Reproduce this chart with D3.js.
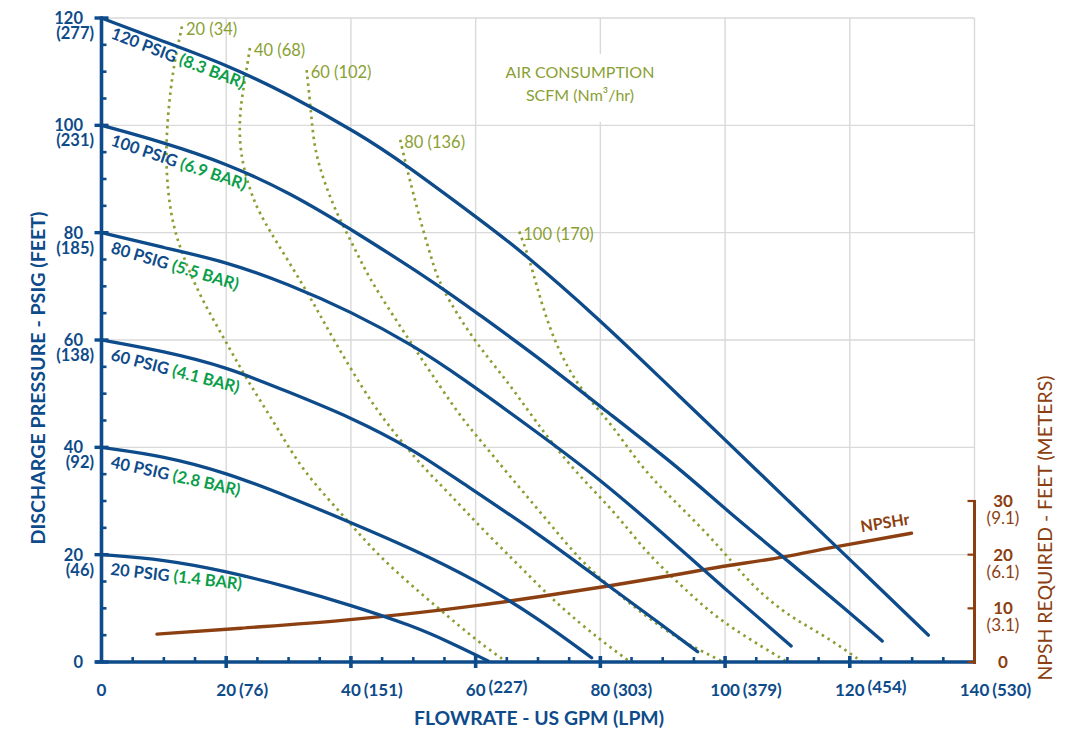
<!DOCTYPE html>
<html>
<head>
<meta charset="utf-8">
<script src="https://cdn.jsdelivr.net/npm/d3@7"></script>
<style>
body { margin: 0; background: #fff; }
svg { display: block; font-family: Lato, "Open Sans", sans-serif; }
</style>
</head>
<body>
<svg id="chart" width="1078" height="734"></svg>
<script>
// ---- data ----
var flowTicks = [0, 20, 40, 60, 80, 100, 120, 140];
var flowLpm = ['', '(76)', '(151)', '(227)', '(303)', '(379)', '(454)', '(530)'];
var psiTicks = [0, 20, 40, 60, 80, 100, 120];
var psiFeet = ['', '(46)', '(92)', '(138)', '(185)', '(231)', '(277)'];
var npshTicks = [0, 10, 20, 30];
var npshMeters = ['', '(3.1)', '(6.1)', '(9.1)'];

// pump curves, [gpm, psi]
var pumpPsi = [20, 40, 60, 80, 100, 120];
var pumpBar = ['1.4', '2.8', '4.1', '5.5', '6.9', '8.3'];
var pump20 = [[0,20],[10,19.1],[20,16.9],[30,14],[40,10.6],[50,6.7],[56,3.6],[62,0.2]];
var pump40 = [[0,40],[10,38.4],[20,35.3],[30,30.8],[40,26],[50,21],[60,15.3],[70,8.2],[78.6,0.8]];
var pump60 = [[0,60],[10,57.9],[20,55],[30,50.3],[40,45.6],[50,39.6],[57,34],[70,24],[80,15.3],[90,6.8],[95.6,1.9]];
var pump80 = [[0,80],[10,77.2],[20,74.6],[30,70.4],[40,65.3],[50,59],[57.5,53.2],[70,42.7],[80,34],[90,24],[100,13.6],[110.6,3]];
var pump100 = [[0,100],[10,96.8],[20,92.9],[30,87.6],[41.5,79.6],[54.3,70],[60,65.2],[70,56.8],[80,47.6],[92.8,36],[100,28.5],[110,18.9],[120,9.2],[125.2,3.9]];
var pump120 = [[0,120],[10,115.6],[20,111.3],[30,105.8],[41.5,98.3],[48.4,93],[60.7,82.4],[67.1,76.8],[80,63.7],[90,52.5],[100,41.4],[110,30.2],[120,19.1],[132.6,5]];
var pumpCurves = [pump20, pump40, pump60, pump80, pump100, pump120];

// air consumption lines, [gpm, psi]
var airScfm = [20, 40, 60, 80, 100];
var airNm3 = [34, 68, 102, 136, 170];
var air20 = [[12.9,118.4],[12.1,114],[11.3,109],[10.5,100.4],[10.3,92.3],[11,83.6],[12.6,76.8],[15.8,68.1],[19.8,60],[23.3,52.6],[28.1,43.9],[32.1,35.8],[39,27],[44.7,19.3],[54.3,9.7],[60.7,3.5],[65,0]];
var air40 = [[23.8,114.4],[23,108.5],[22.2,102.9],[22.1,97.3],[22.7,92.3],[24.3,86.1],[26.5,81.1],[32.9,69.3],[37.2,60],[43.6,47.6],[47.9,41.4],[51.8,36],[55.6,31.6],[60.7,25.2],[67.1,17.8],[73.5,10.3],[80,4.1],[84.8,0]];
var air60 = [[32.9,110.3],[33.4,104.8],[33.7,101],[34.2,95.4],[35.6,89.8],[37.7,83.6],[39.9,78.7],[42,73.7],[44.1,69.3],[50,58.8],[54.3,51.3],[58,45.1],[60.7,41.4],[66,33.9],[71.4,26.5],[76.7,19],[82.1,13.4],[87.4,8.4],[92.8,4.1],[96,2.2],[99.7,0]];
var air80 = [[47.9,97.3],[48.9,92.3],[50,87.3],[51.4,81.1],[53,74.9],[54.3,70],[59.6,60],[65,52.5],[69.5,45],[75.6,35.8],[82.1,28.3],[87.4,20.3],[92.3,15],[97.1,9.7],[102.4,5.3],[110,0]];
var air100 = [[67,80.2],[68.5,75.5],[69.8,70],[71.9,61.9],[74.6,55],[77.8,49.4],[82.1,43.9],[86.6,36.2],[91.7,30.2],[97.1,24],[101.3,18.4],[105.1,13.4],[110.4,8.4],[116.3,4.7],[122,0]];
var airCurves = [air20, air40, air60, air80, air100];

// NPSH required, [gpm, feet]
var npshr = [[8.9,5.2],[22.4,6.3],[39,7.8],[50.1,9.1],[60.7,10.6],[70.4,12.2],[81.5,14.2],[92.8,16.4],[97.1,17.3],[109.4,19.6],[117.9,21.5],[129.9,24]];

// ---- layout ----
var pumpLabelAngle = [6.5, 12.5, 14.5, 16.5, 18.5, 21];

var BLUE = '#0e4b8a', GREEN = '#0a9e4a', OLIVE = '#8a9f33', BROWN = '#8c4012', GRID = '#d9d9d9';

var svg = d3.select('#chart');
var x = d3.scaleLinear().domain([0, 140]).range([101.5, 974.5]);
var y = d3.scaleLinear().domain([0, 120]).range([662, 18]);
var yR = d3.scaleLinear().domain([0, 30]).range([y(0), y(30)]);

// grid
var grid = svg.append('g').attr('class', 'grid');
grid.selectAll('.hgrid')
    .data(psiTicks.filter(function (d) { return d > 0; }))
  .enter()
  .append('line')
    .attr('x1', x(0)).attr('x2', x(140))
    .attr('y1', function (d) { return y(d); })
    .attr('y2', function (d) { return y(d); })
    .attr('stroke', GRID).attr('stroke-width', 1.4);
grid.selectAll('.vgrid')
    .data(flowTicks.filter(function (d) { return d > 0; }))
  .enter()
  .append('line')
    .attr('x1', function (d) { return x(d); })
    .attr('x2', function (d) { return x(d); })
    .attr('y1', y(120))
    .attr('y2', function (d) { return d == 140 ? yR(30) : y(0); })
    .attr('stroke', GRID).attr('stroke-width', 1.4);

// air consumption title box
svg.append('rect')
    .attr('x', 500).attr('y', 54).attr('width', 160).attr('height', 68)
    .attr('fill', '#fff');
svg.append('text')
    .attr('x', 580).attr('y', 78)
    .attr('text-anchor', 'middle').attr('fill', OLIVE)
    .style('font-size', '16px')
    .text('AIR CONSUMPTION');
svg.append('text')
    .attr('x', 580).attr('y', 101)
    .attr('text-anchor', 'middle').attr('fill', OLIVE)
    .style('font-size', '16px')
    .text('SCFM (Nm³/hr)');

// air consumption lines
var smoothLine = d3.line()
    .x(function (d) { return x(d[0]); })
    .y(function (d) { return y(d[1]); })
    .curve(d3.curveBasis);

svg.selectAll('.air')
    .data(airCurves)
  .enter()
  .append('path')
    .attr('class', 'air')
    .attr('d', smoothLine)
    .attr('fill', 'none')
    .attr('stroke', OLIVE)
    .attr('stroke-width', 2.7)
    .attr('stroke-dasharray', '2.5 4.2');

svg.selectAll('.air-label')
    .data(airCurves)
  .enter()
  .append('text')
    .attr('class', 'air-label')
    .attr('x', function (d) { return x(d[0][0]) + 4; })
    .attr('y', function (d) { return y(d[0][1]) + 8; })
    .attr('fill', OLIVE)
    .style('font-size', '16.5px')
    .text(function (d, i) { return airScfm[i] + ' (' + airNm3[i] + ')'; });

// NPSHr
svg.append('path')
    .attr('d', d3.line()
        .x(function (d) { return x(d[0]); })
        .y(function (d) { return yR(d[1]); })
        .curve(d3.curveMonotoneX)(npshr))
    .attr('fill', 'none')
    .attr('stroke', BROWN)
    .attr('stroke-width', 3.4)
    .attr('stroke-linecap', 'round');

var lastN = npshr[npshr.length - 1];
svg.append('text')
    .attr('transform', 'translate(' + (x(lastN[0]) - 50) + ',' + (yR(lastN[1]) - 1) + ') rotate(-9)')
    .attr('fill', BROWN)
    .style('font-size', '16px').style('font-weight', 'bold')
    .text('NPSHr');

// pump curves
svg.selectAll('.pump')
    .data(pumpCurves)
  .enter()
  .append('path')
    .attr('class', 'pump')
    .attr('d', smoothLine)
    .attr('fill', 'none')
    .attr('stroke', BLUE)
    .attr('stroke-width', 3.3)
    .attr('stroke-linecap', 'round');

var pumpLabels = svg.selectAll('.pump-label')
    .data(pumpPsi)
  .enter()
  .append('text')
    .attr('class', 'pump-label')
    .attr('transform', function (d, i) {
        return 'translate(' + (x(0) + 8.5) + ',' + (y(d) + 20) + ') rotate(' + pumpLabelAngle[i] + ')';
    })
    .style('font-size', '16.5px').style('font-weight', 'bold');
pumpLabels.append('tspan')
    .attr('fill', BLUE)
    .text(function (d) { return d + ' PSIG '; });
pumpLabels.append('tspan')
    .attr('fill', GREEN)
    .text(function (d, i) { return '(' + pumpBar[i] + ' BAR)'; });

// ---- axes ----
var x0 = x(0), y0 = y(0), xR = x(140);
var minorFlow = d3.range(5, 140, 5).filter(function (d) { return d % 20 != 0; });
var minorPsi = d3.range(5, 120, 5).filter(function (d) { return d % 20 != 0; });

var axes = svg.append('g').attr('stroke', BLUE).attr('stroke-linecap', 'butt');
axes.append('line')
    .attr('x1', x0).attr('x2', x0).attr('y1', y(120) - 1.5).attr('y2', y0)
    .attr('stroke-width', 3.6);
axes.append('line')
    .attr('x1', x0 - 6).attr('x2', xR).attr('y1', y0).attr('y2', y0)
    .attr('stroke-width', 3.6);
axes.selectAll('.ymajor')
    .data(psiTicks)
  .enter()
  .append('line')
    .attr('x1', x0 - 7).attr('x2', x0 + 7)
    .attr('y1', function (d) { return y(d); })
    .attr('y2', function (d) { return y(d); })
    .attr('stroke-width', 3.4);
axes.selectAll('.yminor')
    .data(minorPsi)
  .enter()
  .append('line')
    .attr('x1', x0).attr('x2', x0 + 5)
    .attr('y1', function (d) { return y(d); })
    .attr('y2', function (d) { return y(d); })
    .attr('stroke-width', 2.6);
axes.selectAll('.xmajor')
    .data(flowTicks.filter(function (d) { return d > 0 && d < 140; }))
  .enter()
  .append('line')
    .attr('x1', function (d) { return x(d); })
    .attr('x2', function (d) { return x(d); })
    .attr('y1', y0 - 6).attr('y2', y0 + 6)
    .attr('stroke-width', 3.6);
axes.selectAll('.xminor')
    .data(minorFlow)
  .enter()
  .append('line')
    .attr('x1', function (d) { return x(d); })
    .attr('x2', function (d) { return x(d); })
    .attr('y1', y0 - 5).attr('y2', y0)
    .attr('stroke-width', 2.6);

// right NPSH axis
var axisR = svg.append('g').attr('stroke', BROWN);
axisR.append('line')
    .attr('x1', xR).attr('x2', xR).attr('y1', yR(30) - 1).attr('y2', y0 + 2)
    .attr('stroke-width', 3);
axisR.selectAll('.rtick')
    .data(npshTicks)
  .enter()
  .append('line')
    .attr('x1', xR - 7).attr('x2', xR)
    .attr('y1', function (d) { return yR(d); })
    .attr('y2', function (d) { return yR(d); })
    .attr('stroke-width', 2.2);

// left tick labels: psi over feet in one text
var leftLabels = svg.append('g')
    .attr('fill', BLUE).attr('text-anchor', 'end')
    .style('font-size', '16.5px').style('font-weight', 'bold');
var yText = leftLabels.selectAll('.ylab')
    .data(psiTicks)
  .enter()
  .append('text')
    .attr('y', function (d) { return y(d) + 6; });
yText.append('tspan')
    .attr('x', 83)
    .text(function (d) { return d; });
yText.append('tspan')
    .attr('x', 94).attr('dy', 15)
    .text(function (d, i) { return psiFeet[i]; });

// bottom tick labels: number centred on the tick, litres after it
var bottomLabels = svg.append('g')
    .attr('fill', BLUE)
    .style('font-size', '17px').style('font-weight', 'bold');
flowTicks.forEach(function (d, i) {
    var num = bottomLabels.append('text')
        .attr('x', x(d)).attr('y', 696)
        .attr('text-anchor', 'middle')
        .text(d);
    if (flowLpm[i]) {
        var w = num.node().getComputedTextLength();
        bottomLabels.append('text')
            .attr('x', x(d) + w / 2 + 3)
            .attr('y', (d == 60 || d == 120) ? 693 : 696)
            .text(flowLpm[i]);
    }
});

// right tick labels
var rightLabels = svg.append('g')
    .attr('fill', BROWN).attr('text-anchor', 'middle')
    .style('font-size', '17px');
var rText = rightLabels.selectAll('.rlab')
    .data(npshTicks)
  .enter()
  .append('text')
    .attr('y', function (d) { return yR(d) + 6; });
rText.append('tspan')
    .attr('x', 1003)
    .style('font-weight', 'bold')
    .text(function (d) { return d; });
rText.append('tspan')
    .attr('x', 1003).attr('dy', 17)
    .text(function (d, i) { return npshMeters[i]; });

// axis titles
svg.append('text')
    .attr('transform', 'translate(45,378) rotate(-90)')
    .attr('text-anchor', 'middle').attr('fill', BLUE)
    .attr('textLength', 333).attr('lengthAdjust', 'spacingAndGlyphs')
    .style('font-size', '18.5px').style('font-weight', 'bold')
    .text('DISCHARGE PRESSURE - PSIG (FEET)');
svg.append('text')
    .attr('x', 539).attr('y', 725)
    .attr('text-anchor', 'middle').attr('fill', BLUE)
    .attr('textLength', 250).attr('lengthAdjust', 'spacingAndGlyphs')
    .style('font-size', '19px').style('font-weight', 'bold')
    .text('FLOWRATE - US GPM (LPM)');
svg.append('text')
    .attr('transform', 'translate(1052,528) rotate(-90)')
    .attr('text-anchor', 'middle').attr('fill', BROWN)
    .attr('textLength', 305).attr('lengthAdjust', 'spacingAndGlyphs')
    .style('font-size', '18.5px')
    .text('NPSH REQUIRED - FEET (METERS)');
</script>
</body>
</html>
